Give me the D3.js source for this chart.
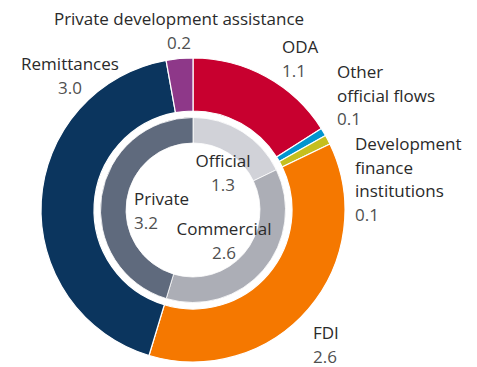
<!DOCTYPE html>
<html><head><meta charset="utf-8">
<script src="https://cdn.jsdelivr.net/npm/d3@7"></script>
<style>
html,body{margin:0;padding:0;background:#fff;}
svg text{font-family:"Open Sans",sans-serif;font-size:17px;fill:#2a2a2a;}
svg text.num{fill:#505050;}
</style></head>
<body><svg id="c" width="477" height="367"></svg>
<script>
const outerLabels = ["ODA", "Other official flows", "Development finance institutions", "FDI", "Remittances", "Private development assistance"];
const outerValues = [1.13, 0.06, 0.07, 2.6, 3.0, 0.2];
const outerColors = ["#c8002f", "#0095d0", "#c5bf1f", "#f57800", "#0b355e", "#8e3889"];
const innerLabels = ["Official", "Commercial", "Private"];
const innerValues = [1.26, 2.6, 3.2];
const innerColors = ["#d1d2d8", "#acaeb6", "#5f6a7d"];

const svg = d3.select("#c");
const cx = 193, cy = 210;
const g = svg.append("g").attr("transform", `translate(${cx},${cy})`);
const pie = d3.pie().sort(null).value(d => d);
const fmt = d3.format(".1f");

const outerArc = d3.arc().innerRadius(99).outerRadius(152);
const innerArc = d3.arc().innerRadius(67).outerRadius(92.5);

g.selectAll("path.o").data(pie(outerValues)).join("path").attr("class","o")
  .attr("d", outerArc).attr("fill", (d,i) => outerColors[i])
  .attr("stroke", "#fff").attr("stroke-width", 1.2);
g.selectAll("path.i").data(pie(innerValues)).join("path").attr("class","i")
  .attr("d", innerArc).attr("fill", (d,i) => innerColors[i])
  .attr("stroke", "#fff").attr("stroke-width", 0.8);

// label layouts: [x, y baseline, anchor, lines]
const outerLayout = [
  {x: 282, y: 53, a: "start", lines: ["ODA"]},
  {x: 337, y: 78, a: "start", lines: ["Other", "official flows"]},
  {x: 355, y: 150, a: "start", lines: ["Development", "finance", "institutions"]},
  {x: 313, y: 339, a: "start", lines: ["FDI"]},
  {x: 70, y: 70, a: "middle", lines: ["Remittances"]},
  {x: 179, y: 25, a: "middle", lines: ["Private development assistance"]}
];
const innerLayout = [
  {x: 223, y: 167, a: "middle", lines: ["Official"]},
  {x: 224, y: 235, a: "middle", lines: ["Commercial"]},
  {x: 134, y: 205, a: "start", lines: ["Private"]}
];
const lh = 23.7;
function drawLabels(layout, values) {
  layout.forEach((L, i) => {
    const t = svg.append("text").attr("x", L.x).attr("y", L.y).attr("text-anchor", L.a);
    L.lines.forEach((s, j) => {
      t.append("tspan").attr("x", L.x).attr("y", L.y + j * lh).text(s);
    });
    svg.append("text").attr("class", "num").attr("x", L.x).attr("y", L.y + L.lines.length * lh)
      .attr("text-anchor", L.a).text(fmt(values[i]));
  });
}
drawLabels(outerLayout, outerValues);
drawLabels(innerLayout, innerValues);
</script></body></html>
